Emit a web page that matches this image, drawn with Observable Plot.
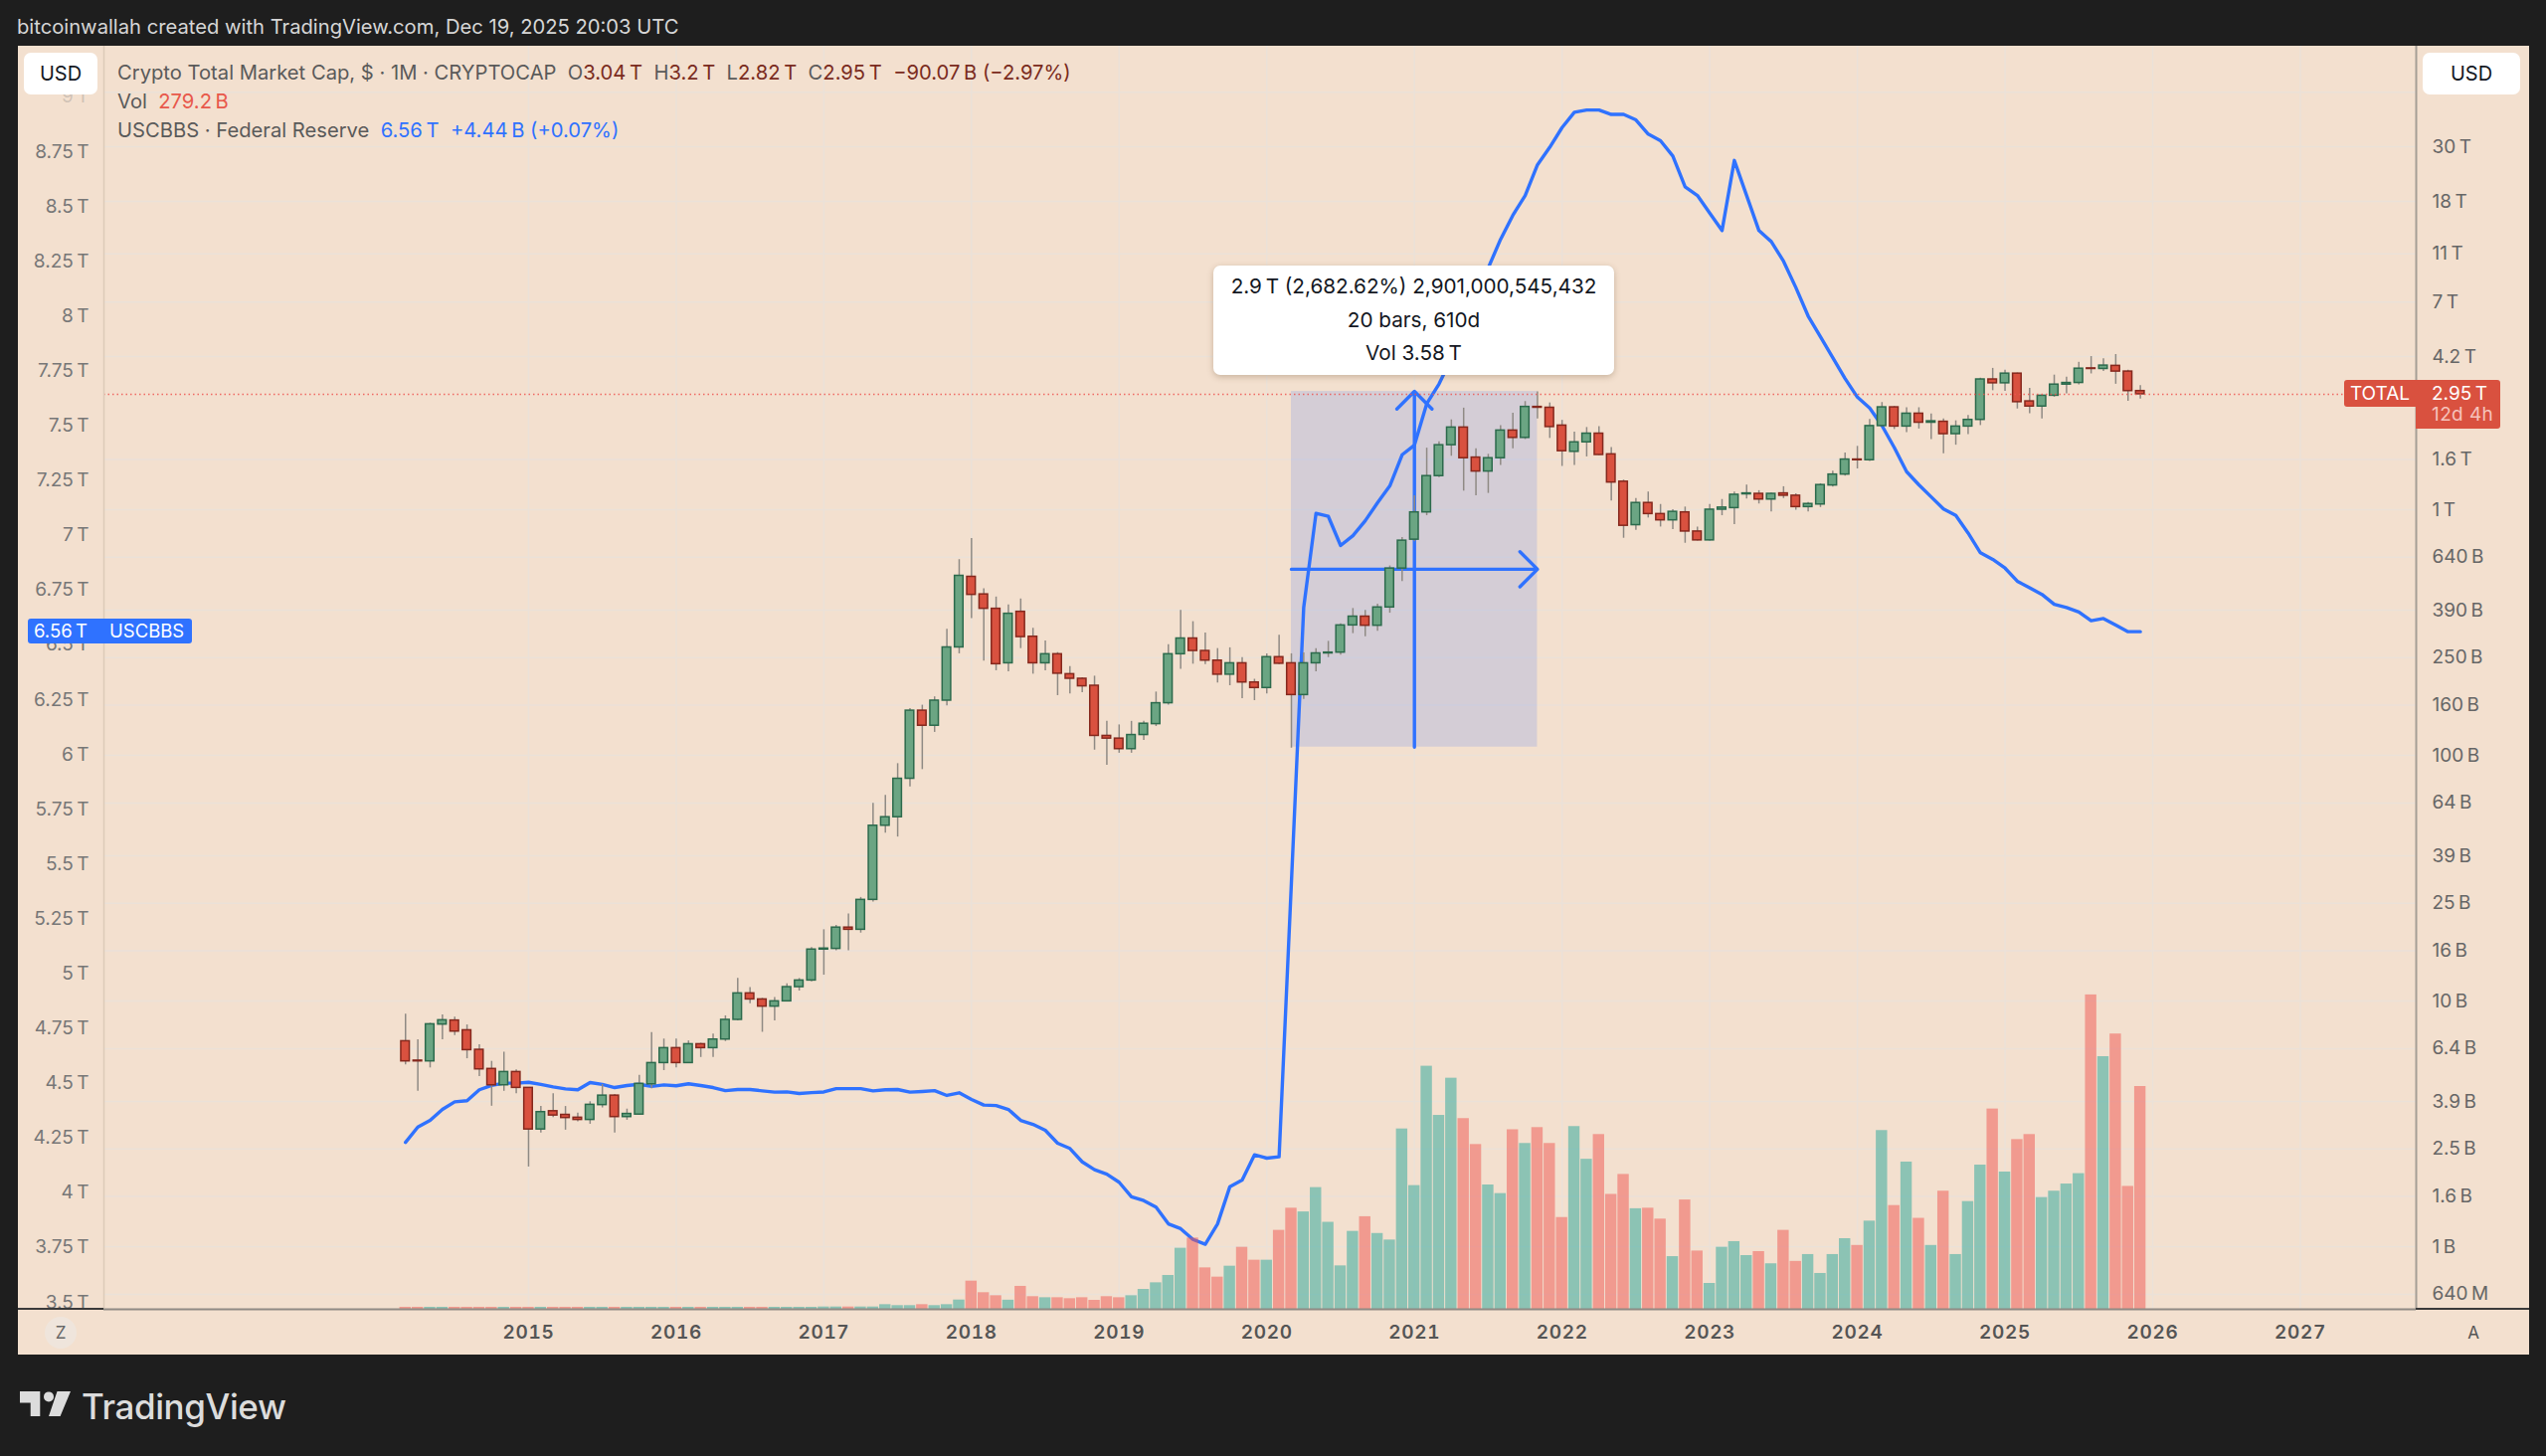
<!DOCTYPE html>
<html>
<head>
<meta charset="utf-8">
<script src="https://cdn.jsdelivr.net/npm/d3@7"></script>
<script src="https://cdn.jsdelivr.net/npm/@observablehq/plot@0.6"></script>
<style>
html,body{margin:0;padding:0;background:#1e1e1e;width:2560px;height:1464px;overflow:hidden;font-family:Inter,Roboto,"Liberation Sans",sans-serif}
.abs{position:absolute;white-space:nowrap}
#panel{left:18px;top:46px;width:2525px;height:1316px;background:#f3e0cf}
#chart{left:18px;top:46px}
#chart svg{background:transparent;display:block}
#chart svg [aria-label="x-axis tick label"]{letter-spacing:.7px}
.leg{font-size:20.2px;line-height:24px;color:#5a5a5a;left:118px}
.dk{color:#7a2b20}.rd{color:#e8584b}.bl{color:#2f72ff}
.btn{background:#fff;border-radius:7px;color:#131722;font-size:20px;text-align:center;height:42px;line-height:42px;top:53px}
#tip{left:1220px;top:267px;width:403px;height:110px;background:#fff;border-radius:7px;box-shadow:0 2px 6px rgba(90,60,30,.28);color:#131722;font-size:20.7px;text-align:center}
#tip div{position:absolute;left:0;right:0;line-height:24px}
.tag{color:#fff;font-size:19px;background:#d9513f}
</style>
</head>
<body>
<div class="abs" style="left:17px;top:14px;font-size:20.2px;line-height:25px;color:#d6d6d6">bitcoinwallah created with TradingView.com, Dec 19, 2025 20:03 UTC</div>
<div class="abs" id="panel"></div>
<div class="abs" id="chart"></div>

<div class="abs" style="left:18px;top:1315px;width:86px;height:2px;background:#3a3a3a"></div>
<div class="abs" style="left:2429px;top:1315px;width:114px;height:2px;background:#3a3a3a"></div>

<div class="abs leg" style="top:61px">Crypto Total Market Cap, $ · 1M · CRYPTOCAP&nbsp; O<span class="dk">3.04&#8201;T</span>&nbsp; H<span class="dk">3.2&#8201;T</span>&nbsp; L<span class="dk">2.82&#8201;T</span>&nbsp; C<span class="dk">2.95&#8201;T</span>&nbsp; <span class="dk">−90.07&#8201;B (−2.97%)</span></div>
<div class="abs leg" style="top:90px">Vol&nbsp; <span class="rd">279.2&#8201;B</span></div>
<div class="abs leg" style="top:119px">USCBBS · Federal Reserve&nbsp; <span class="bl">6.56&#8201;T&nbsp; +4.44&#8201;B (+0.07%)</span></div>

<div class="abs btn" style="left:24px;width:74px">USD</div>
<div class="abs btn" style="left:2436px;width:98px">USD</div>

<div class="abs" id="tip">
  <div style="top:9px">2.9&#8201;T (2,682.62%) 2,901,000,545,432</div>
  <div style="top:43px">20 bars, 610d</div>
  <div style="top:76px">Vol 3.58&#8201;T</div>
</div>

<div class="abs" style="left:28px;top:622px;width:165px;height:25px;background:#2f72ff;border-radius:3px;color:#fff;font-size:18.5px;line-height:25px">
  <span style="position:absolute;left:6px">6.56&#8201;T</span><span style="position:absolute;left:82px">USCBBS</span>
</div>

<div class="abs tag" style="left:2357px;top:382px;width:72px;height:27px;line-height:27px;text-align:center;border-radius:3px 0 0 3px">TOTAL</div>
<div class="abs tag" style="left:2429px;top:382px;width:85px;height:49px;border-radius:0 3px 3px 0">
  <div style="position:absolute;left:16px;top:2px;line-height:24px">2.95&#8201;T</div>
  <div style="position:absolute;left:16px;top:23px;line-height:24px;color:#f6c3bb;letter-spacing:.4px">12d 4h</div>
</div>

<div class="abs" style="left:45px;top:1324px;width:32px;height:32px;border-radius:16px;background:#efe5dc;color:#666;font-size:17px;line-height:32px;text-align:center">Z</div>
<div class="abs" style="left:2471px;top:1324px;width:32px;height:32px;color:#555;font-size:17px;line-height:32px;text-align:center">A</div>

<svg class="abs" style="left:20px;top:1398px" width="52" height="28" viewBox="0 0 52 28">
  <path d="M0 1H20.3V26H10.7V12.5H0Z M37.5 1H51L40.6 26H29Z" fill="#dcdcdc"/><circle cx="29" cy="6.4" r="5" fill="#dcdcdc"/>
</svg>
<div class="abs" style="left:82px;top:1392px;font-size:35px;line-height:44px;font-weight:500;color:#dcdcdc;letter-spacing:-.4px">TradingView</div>

<script>
// Monthly candles, Mar 2014 → Dec 2025, total crypto market cap in trillions of USD (B values / 1000)
const startYear = 2014, startMonth = 2;
const openB = [6.86,5.72,5.68,8.02,8.33,7.6,6.33,5.29,4.54,5.14,
4.43,3,3.56,3.44,3.35,3.28,3.77,4.12,3.37,3.45,4.58,5.59,
6.43,5.59,6.67,6.43,6.97,8.38,10.74,10.15,9.49,9.97,11.39,12.12,
16.2,16.3,19.9,19.5,25.8,51.7,56,80.3,152,132,167,275,
533,452,395,237,384,304,237,258,214,205,192,120,
117,106,121,134,163,258,299,266,243,213,237,198,
188,251,237,176,237,260,262,338,367,337,400,576];
const openT = [.755,.975,1.37,1.83,2.16,1.63,1.43,1.62,2.1,1.96,2.62,2.6,
2.2,1.72,1.88,2.04,1.68,1.3,.865,1.065,.96,.905,.975,.815,
.75,1,1.015,1.155,1.16,1.1,1.165,1.14,1.025,1.05,1.255,1.39,
1.6,1.59,2.19,2.61,2.18,2.46,2.26,2.28,2.03,2.18,2.32,3.39,
3.27,3.58,2.76,2.63,2.91,3.23,3.28,3.76,3.74,3.85,3.65,3.04];
const highB = [8.83,6.95,8.12,8.78,8.59,7.99,6.63,5.68,6.19,5.24,
4.43,3.72,4.19,3.72,3.5,3.89,4.57,4.16,3.63,4.98,7.44,7,
7,6.88,6.73,7.33,8.7,12.35,11.35,10.25,10.34,11.75,12.35,16.5,
19.5,20.3,22.6,26.4,63.8,68.7,92.5,155,160,173,326,626,
763,476,441,410,433,329,292,262,230,207,210,137.5,
133,137.5,137.5,181,282,389,350,315,272,274,250,204,
259,308,259,261,272,291,343,396,389,412,590,770];
const highT = [1.14,1.78,1.89,2.32,2.59,1.77,1.68,2.2,2.47,2.755,3.02,2.72,
2.31,2.07,2.16,2.18,1.79,1.32,1.11,1.18,1.05,1,1.025,.85,
1.05,1.1,1.18,1.26,1.195,1.17,1.24,1.16,1.07,1.275,1.435,1.7,
1.81,2.33,2.73,2.63,2.6,2.6,2.45,2.34,2.3,2.42,3.43,3.76,
3.7,3.6,3.12,2.93,3.53,3.46,3.98,4.2,4.11,4.28,3.7,3.2];
const lowB = [5.5,4.29,5.34,6.95,7.24,5.82,4.93,3.73,4.29,4.19,
2.11,2.9,3.35,2.98,3.22,3.15,3.67,2.9,3.27,3.43,4.39,5.21,
5.34,5.57,5.89,5.89,6.84,8.3,9.75,7.46,8.3,9.94,10.98,11.97,
12.74,16,16,18.9,25.3,48.2,46.5,74.4,87.5,124,159,259,
360,242,221,219,272,214,221,175,178,180,105,91,
102,102,115,131,160,224,235,234,197,192,170,167,
178,234,107,169,219,250,256,313,304,320,379,510];
const lowT = [.74,.945,1.35,1.65,1.19,1.14,1.165,1.515,1.77,1.93,2.34,1.95,
1.5,1.515,1.64,1.66,1.085,.765,.825,.925,.85,.83,.73,.745,
.745,.945,.87,1.105,1.055,.98,1.11,.995,.98,1.02,1.235,1.37,
1.465,1.57,2.18,2.12,2.06,2.13,1.93,1.69,1.83,2.02,2.2,3.05,
3.03,2.57,2.46,2.34,2.87,2.96,3.22,3.57,3.65,3.24,2.76,2.82];
const closeB = [5.68,5.68,8.04,8.35,7.51,6.31,5.27,4.54,5.14,4.43,
3,3.53,3.42,3.34,3.28,3.78,4.12,3.37,3.47,4.6,5.59,6.43,
5.59,6.67,6.43,6.97,8.38,10.74,10.15,9.49,9.97,11.39,12.12,16.2,
16.35,19.9,19.5,25.8,51.7,56,80.3,152,132,167,275,538,
450,395,235,377,303,237,258,215,205,191,120,117,
106,121,134.5,163,258,299,266,243,213,237,198,188,
251,236,176,237,260,262,338,367,337,400,576,748];
const closeT = [.975,1.37,1.83,2.16,1.62,1.43,1.62,2.1,1.96,2.62,2.6,2.17,
1.73,1.88,2.04,1.67,1.29,.86,1.065,.96,.905,.98,.815,.75,
1,1.02,1.15,1.165,1.1,1.16,1.14,1.025,1.055,1.26,1.39,1.6,
1.59,2.19,2.61,2.18,2.46,2.26,2.29,2.03,2.18,2.32,3.39,3.27,
3.58,2.74,2.63,2.91,3.23,3.28,3.75,3.74,3.86,3.65,3.04,2.95];

// Monthly volume, billions of USD
const volumeB = [2.5,2.5,2.5,2.5,2.5,2.5,2.5,2.5,2.5,2.5,2.5,2.5,2.5,2.5,2.5,2.5,2.5,2.5,2.5,2.5,
2.5,2.5,2.5,2.5,2.5,2.5,2.5,2.5,2.5,2.5,2.5,2.5,2.5,2.5,2.9,2.9,2.9,2.9,2.9,
5.8,4.6,4.6,5.8,4.6,5.8,11.6,35.3,20.8,17,11.4,28.7,15.8,14.5,14.5,13.3,14.5,11.2,15.8,
14.5,17,24.9,33.2,42.4,76.5,89.3,51.9,40.3,54,77.7,61.5,
61.5,98.9,126.7,122,152.5,109,54.4,97.6,116,95,86.8,226,
155,304.6,243,289.6,239,206.5,155.8,145,225,207.8,227.7,207.8,
115,229,188,219,144,169,126,126.7,113,66,137,73,
32.4,77.7,84.8,67.3,72.3,57,98.9,60,68.6,44.9,68.6,88.5,
80,110.5,224,130,184.5,114,80,148,68.6,135,180.7,251,
172,212.7,219,140,148,157,170,394,316.6,345,154,279.2];

// USCBBS Federal Reserve balance sheet, trillions of USD
const fedT = [4.23,4.3,4.33,4.38,4.415,4.42,4.47,4.49,4.5,4.5,
4.504,4.494,4.483,4.474,4.47,4.503,4.494,4.48,4.489,4.495,4.485,4.492,
4.488,4.497,4.489,4.48,4.466,4.471,4.471,4.465,4.459,4.46,4.453,4.457,
4.46,4.475,4.475,4.475,4.465,4.47,4.471,4.459,4.462,4.466,4.444,4.456,
4.426,4.4,4.398,4.38,4.33,4.312,4.285,4.226,4.202,4.141,4.105,4.085,
4.048,3.982,3.964,3.934,3.858,3.836,3.787,3.765,3.858,4.028,4.058,4.173,
4.158,4.164,5.415,6.671,7.1,7.086,6.953,6.998,7.066,7.148,7.225,7.367,
7.411,7.6,7.69,7.806,7.94,8.09,8.22,8.35,8.46,8.55,8.69,8.77,
8.86,8.93,8.94,8.94,8.92,8.92,8.895,8.83,8.8,8.73,8.59,8.55,
8.47,8.39,8.71,8.55,8.39,8.34,8.25,8.13,8,7.905,7.81,7.715,
7.63,7.58,7.5,7.4,7.29,7.23,7.175,7.12,7.09,7.01,6.92,6.89,
6.85,6.79,6.76,6.73,6.685,6.67,6.65,6.61,6.62,6.59,6.56,6.56];

// Axis ticks
const years = [2015,2016,2017,2018,2019,2020,2021,2022,2023,2024,2025,2026,2027];
const totalTicks = [50,30,18,11,7,4.2,1.6,1,.64,.39,.25,.16,.1,.064,.039,.025,.016,.01,.0064,.0039,.0025,.0016,.001,.00064];
const totalLabels = ["50 T","30 T","18 T","11 T","7 T","4.2 T","1.6 T","1 T","640 B","390 B","250 B","160 B","100 B","64 B","39 B","25 B","16 B","10 B","6.4 B","3.9 B","2.5 B","1.6 B","1 B","640 M"].map(s=>s.replace(" ","\u2009"));
const fedTicks = [8.75,8.5,8.25,8,7.75,7.5,7.25,7,6.75,6.5,6.25,6,5.75,5.5,5.25,5,4.75,4.5,4.25,4,3.75,3.5];
const fadedFedTick = 9;

// Measure tool: Mar 2020 low → Nov 2021 high, 20 bars
const measureLow = .108, measureHigh = 3.03, measureStart = 2020+2/12, measureEnd = 2021+10/12, measureMidX = 2021;
const lastPrice = 2.95;

const opens = openB.map(v=>v/1000).concat(openT);
const highs = highB.map(v=>v/1000).concat(highT);
const lows = lowB.map(v=>v/1000).concat(lowT);
const closes = closeB.map(v=>v/1000).concat(closeT);

const n = opens.length;
for (const a of [highs,lows,closes,volumeB,fedT]) if (a.length !== n) throw new Error("length mismatch "+a.length+" vs "+n);

const xDomain = [2012.124, 2027.785];
const yDomain = [0.000556, 77];
const W = 2525, H = 1316, mL = 86, mR = 114, mB = 46;
const plotH = H - mB;

// Overlay price scales that share the pane with the log TOTAL scale
const yLog = d3.scaleLog().domain(yDomain).range([plotH,0]);
const fedScale = d3.scaleLinear().domain([3.5,8.75]).range([plotH-7,106]);
const volScale = d3.scaleLinear().domain([0,279.2]).range([plotH,plotH-224]);
const fedToY = v => yLog.invert(fedScale(v));
const volToY = v => yLog.invert(volScale(v));

const rows = d3.range(n).map(i => ({
  t: startYear + (startMonth+i)/12,
  o: opens[i], h: highs[i], l: lows[i], c: closes[i],
  v: volumeB[i], fed: fedT[i], up: closes[i] >= opens[i]
}));
const bodyHalf = 4.3/148.45, volHalf = 5.7/148.45;

const gridC = "#ebe1d8", upFill="#6ba583", upLine="#2c6a4c", dnFill="#d9513f", dnLine="#85281d", wick="#8f8a84", volUp="#26a69a", volDn="#ef5350", blue="#2f72ff";
const tickLabel = new Map(totalTicks.map((d,i)=>[d,totalLabels[i]]));

const candleBodies = (data, fill, stroke) => Plot.rect(data, {
  x1:d=>d.t-bodyHalf, x2:d=>d.t+bodyHalf, y1:"o", y2:"c", fill, stroke, strokeWidth:1.5
});
const volBars = (data, fill) => Plot.rect(data, {
  x1:d=>d.t-volHalf, x2:d=>d.t+volHalf, y1:()=>yDomain[0], y2:d=>volToY(d.v), fill, fillOpacity:.5
});

const chart = Plot.plot({
  width:W, height:H, marginLeft:mL, marginRight:mR, marginTop:0, marginBottom:mB,
  style:{background:"transparent", fontFamily:"Inter, Roboto, sans-serif", fontSize:"19px", overflow:"visible"},
  x:{type:"linear", domain:xDomain, axis:null},
  y:{type:"log", domain:yDomain, axis:null},
  marks:[
    Plot.ruleX(years,{stroke:gridC, strokeWidth:1.5}),
    Plot.ruleY(totalTicks,{x1:xDomain[0], x2:xDomain[1], stroke:gridC, strokeWidth:1.5}),
    Plot.rect([0],{x1:measureStart, x2:measureEnd, y1:measureLow, y2:measureHigh, fill:"#2962ff", fillOpacity:.15}),
    Plot.arrow([0],{x1:measureStart, x2:measureEnd, y1:()=>Math.sqrt(measureLow*measureHigh), y2:()=>Math.sqrt(measureLow*measureHigh), stroke:blue, strokeWidth:3.4, headLength:11, headAngle:90}),
    Plot.arrow([0],{x1:measureMidX, x2:measureMidX, y1:measureLow, y2:measureHigh, stroke:blue, strokeWidth:3.4, headLength:11, headAngle:90}),
    Plot.line(rows,{x:"t", y:d=>fedToY(d.fed), stroke:blue, strokeWidth:3.4, strokeLinejoin:"round"}),
    volBars(rows.filter(d=>d.up), volUp),
    volBars(rows.filter(d=>!d.up), volDn),
    Plot.ruleX(rows,{x:"t", y1:"l", y2:"h", stroke:wick, strokeWidth:1.5}),
    candleBodies(rows.filter(d=>d.up), upFill, upLine),
    candleBodies(rows.filter(d=>!d.up), dnFill, dnLine),
    Plot.ruleY([lastPrice],{x1:xDomain[0], x2:xDomain[1], stroke:"#ef5350", strokeWidth:1.5, strokeDasharray:"1.5 3", strokeOpacity:.85}),
    Plot.ruleX([xDomain[0]],{stroke:"#dccab9", strokeWidth:1.5}),
    Plot.ruleX([xDomain[1]],{stroke:"#a59e96", strokeWidth:2}),
    Plot.ruleY([yDomain[0]],{x1:xDomain[0], x2:xDomain[1], stroke:"#8f8a84", strokeWidth:2}),
    Plot.axisX({ticks:years, tickSize:0, tickPadding:16, tickFormat:d=>String(d), label:null, fill:"#555", fontSize:19, fontWeight:600}),
    Plot.text(totalTicks.filter(d=>d<50),{x:()=>xDomain[1], y:d=>d, text:d=>tickLabel.get(d), textAnchor:"start", dx:16, fill:"#666", fontSize:19}),
    Plot.text(fedTicks,{x:()=>xDomain[0], y:d=>fedToY(d), text:d=>d+"\u2009T", textAnchor:"end", dx:-15, fill:"#777", fontSize:19}),
    Plot.text([fadedFedTick],{x:()=>xDomain[0], y:d=>fedToY(d), text:d=>d+"\u2009T", textAnchor:"end", dx:-15, fill:"#777", fillOpacity:.3, fontSize:19})
  ]
});
document.getElementById("chart").appendChild(chart);
</script>
</body>
</html>
